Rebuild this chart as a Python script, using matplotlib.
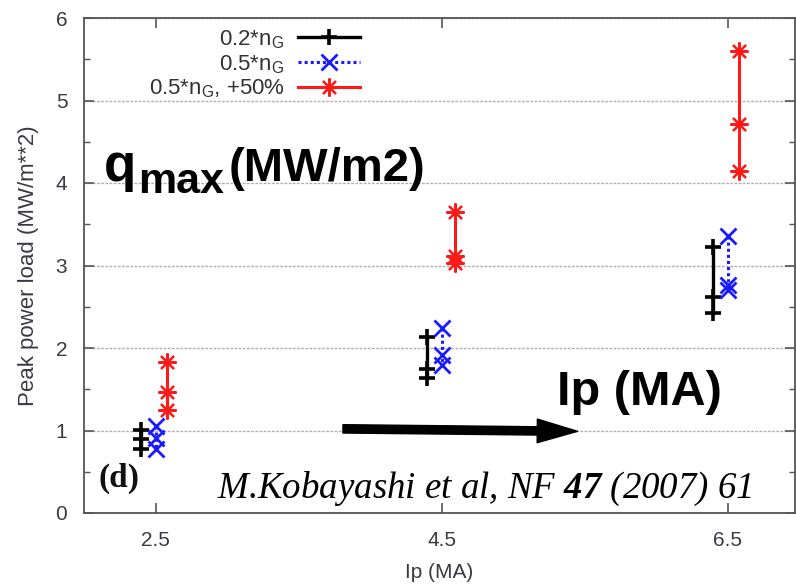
import matplotlib
matplotlib.use("Agg")
import matplotlib.pyplot as plt
from matplotlib.patches import FancyArrowPatch
from matplotlib.ticker import MultipleLocator

plt.rcParams['font.family'] = ['Liberation Sans', 'DejaVu Sans']
plt.rcParams['mathtext.fontset'] = 'custom'
plt.rcParams['mathtext.sf'] = 'Liberation Sans'
plt.rcParams['mathtext.rm'] = 'Liberation Serif:italic'
plt.rcParams['mathtext.it'] = 'Liberation Serif:italic'
plt.rcParams['mathtext.bf'] = 'Liberation Serif:bold:italic'

# ---- data ----
ip_ticks = [2.5, 4.5, 6.5]
ip_labels = ['2.5', '4.5', '6.5']
y_ticks = [0, 1, 2, 3, 4, 5, 6]

x_02 = [2.4, 4.4, 6.4]
q_02 = [[1.01, 0.90, 0.78], [2.13, 1.75, 1.64], [3.22, 2.62, 2.43]]
x_05 = [2.5, 4.5, 6.5]
q_05 = [[1.06, 0.91, 0.77], [2.24, 1.92, 1.80], [3.36, 2.76, 2.70]]
x_05p = [2.58, 4.59, 6.58]
q_05p = [[1.83, 1.47, 1.25], [3.65, 3.12, 3.03], [5.60, 4.71, 4.14]]

labels = ['0.2*n$_\\mathsf{G}$', '0.5*n$_\\mathsf{G}$', '0.5*n$_\\mathsf{G}$, +50%']

W, H = 796, 584
fig = plt.figure(figsize=(W / 100, H / 100), dpi=100)
ax = fig.add_axes([84 / W, (H - 513) / H, (795 - 84) / W, (513 - 18) / H])

tick_col = '#3a3a44'
star = (8, 2, 0)

for i, (xv, qv) in enumerate(zip(x_02, q_02)):
    ax.plot([xv] * len(qv), qv, color='black', lw=2.4, marker='+', ms=12, mew=2.6,
            label=labels[0] if i == 0 else None, zorder=3)
for i, (xv, qv) in enumerate(zip(x_05, q_05)):
    ax.plot([xv] * len(qv), qv, color='#1a1aff', lw=2.2, ls=(0, (1, 1)), marker='x', ms=11, mew=2.0,
            label=labels[1] if i == 0 else None, zorder=3)
for i, (xv, qv) in enumerate(zip(x_05p, q_05p)):
    ax.plot([xv] * len(qv), qv, color='#ff1a1a', lw=2.2, marker=star, ms=13, mew=1.6,
            label=labels[2] if i == 0 else None, zorder=3)

ax.set_xlim(2.0, 6.97)
ax.set_ylim(0, 6)
ax.set_xticks(ip_ticks)
ax.set_xticklabels(ip_labels)
ax.set_yticks(y_ticks)
ax.yaxis.set_minor_locator(MultipleLocator(0.5))
ax.tick_params(axis='both', which='major', direction='in', length=7, width=1.2, color='#555555',
               labelsize=15, labelcolor=tick_col, top=True, right=True)
ax.tick_params(axis='x', which='major', pad=13)
ax.tick_params(axis='y', which='major', pad=12)
ax.tick_params(axis='y', which='minor', direction='in', length=4, width=1.0, color='#555555',
               left=True, right=True)
for s in ax.spines.values():
    s.set_color('#555555')
    s.set_linewidth(1.3)
ax.yaxis.grid(True, which='major', color='#b0b0b0', lw=1.0, ls=(0, (2, 1)))
ax.set_axisbelow(True)

ax.set_xlabel('Ip (MA)', fontsize=15, color=tick_col, labelpad=9)
ax.set_ylabel('Peak power load (MW/m**2)', fontsize=16, color=tick_col, labelpad=12)

leg = ax.legend(loc='upper right', bbox_to_anchor=(360 / W, 1 - 28 / H), bbox_transform=fig.transFigure,
                frameon=False, markerfirst=False, fontsize=16, handlelength=2.8, handletextpad=0.6,
                labelspacing=0.12, borderpad=0, borderaxespad=0, numpoints=1)
for t in leg.get_texts():
    t.set_color('#333333')

# big annotations
fig.text(104 / W, 1 - 181 / H, 'q', fontsize=38, fontweight='bold', color='black', va='baseline')
fig.text(138 / W, 1 - 193 / H, 'max', fontsize=31, fontweight='bold', color='black', va='baseline')
fig.text(229 / W, 1 - 181 / H, '(MW/m2)', fontsize=34, fontweight='bold', color='black', va='baseline')
fig.text(557 / W, 1 - 405 / H, 'Ip (MA)', fontsize=35, fontweight='bold', color='black', va='baseline')

fig.text(99 / W, 1 - 487 / H, '(d)', fontsize=24, fontweight='bold', family='Liberation Serif',
         color='#111111', va='baseline')
fig.text(217 / W, 1 - 498 / H, 'M.Kobayashi et al, NF $\\mathbf{47}$ (2007) 61', fontsize=26.6,
         family='Liberation Serif', style='italic', color='black', va='baseline')

arrow = FancyArrowPatch((3.81, 1.02), (5.45, 0.99), transform=ax.transData,
                        arrowstyle='simple,head_length=29,head_width=17,tail_width=6',
                        mutation_scale=1, color='black', shrinkA=0, shrinkB=0, zorder=4)
ax.add_patch(arrow)

fig.savefig('out.png', dpi=100)
